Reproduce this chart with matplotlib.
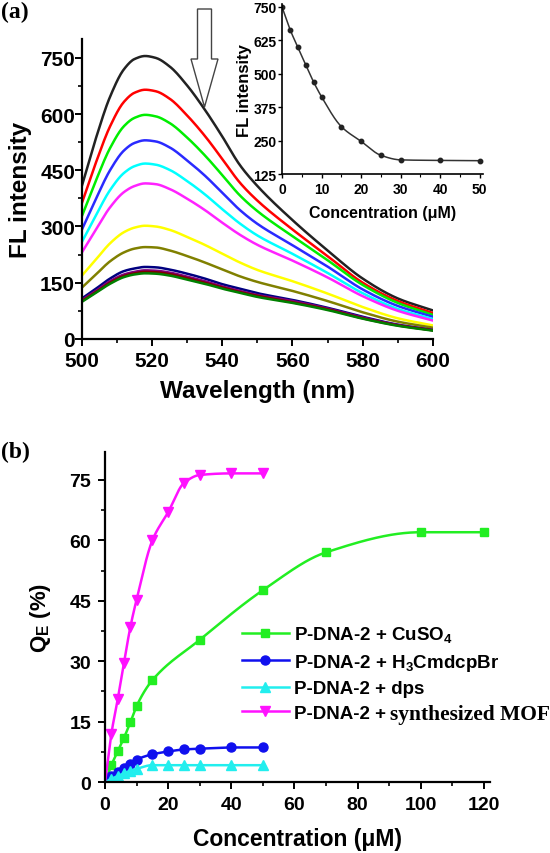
import numpy as np
import matplotlib
matplotlib.use("Agg")
import matplotlib.pyplot as plt
from matplotlib.patches import FancyArrow
from matplotlib.ticker import MultipleLocator

plt.rcParams['font.family'] = ['Liberation Sans', 'DejaVu Sans']
plt.rcParams['font.weight'] = 'bold'
plt.rcParams['axes.labelweight'] = 'bold'
plt.rcParams['mathtext.fontset'] = 'custom'
plt.rcParams['mathtext.rm'] = 'Liberation Sans:bold'
plt.rcParams['mathtext.it'] = 'Liberation Sans:bold'
plt.rcParams['mathtext.bf'] = 'Liberation Sans:bold'

# panel (a): emission spectra
wavelength = [500, 504, 508, 512, 515, 518, 521, 525, 530, 535, 540, 545, 550, 560, 570, 580, 590, 600]
spectra = [
    [409, 536, 646, 720, 747, 755, 750, 727, 676, 612, 540, 464, 408, 317, 236, 161, 108, 76],
    [363, 471, 567, 633, 657, 665, 661, 641, 596, 542, 480, 417, 369, 292, 221, 150, 101, 69],
    [328, 423, 509, 568, 590, 598, 594, 576, 537, 490, 437, 383, 341, 274, 210, 144, 96, 64],
    [292, 374, 450, 503, 523, 530, 527, 511, 476, 436, 390, 344, 307, 250, 193, 132, 88, 59],
    [259, 330, 397, 443, 461, 468, 465, 451, 421, 386, 346, 308, 276, 227, 176, 122, 80, 53],
    [231, 292, 351, 392, 408, 415, 413, 400, 374, 344, 310, 278, 251, 209, 164, 114, 75, 49],
    [169, 212, 255, 285, 297, 302, 300, 291, 272, 251, 227, 204, 184, 154, 121, 85, 55, 36],
    [137, 172, 207, 231, 241, 245, 244, 236, 221, 204, 185, 167, 152, 128, 101, 71, 46, 30],
    [108, 134, 161, 181, 188, 192, 191, 185, 174, 161, 146, 134, 122, 104, 83, 59, 38, 24],
    [104, 128, 154, 172, 179, 183, 182, 177, 166, 154, 140, 128, 117, 101, 81, 57, 37, 23],
    [101, 125, 150, 168, 175, 179, 178, 173, 162, 150, 137, 125, 115, 98, 79, 55, 36, 23],
    [99, 123, 147, 165, 172, 175, 174, 169, 158, 147, 134, 123, 112, 96, 77, 54, 35, 22],
]
spec_colors = ['#222222', '#ff0000', '#00ee00', '#2a2aff', '#00ffff', '#ff22ff',
               '#ffff00', '#808000', '#000080', '#800080', '#800000', '#008000']

# inset: peak intensity vs concentration
inset_conc = [0, 2, 4, 6, 8, 10, 15, 20, 25, 30, 40, 50]
inset_fl = [748, 665, 598, 532, 468, 413, 302, 247, 195, 178, 176, 175]

# panel (b): quenching efficiency
conc_cu = [0, 2, 4, 6, 8, 10, 15, 30, 50, 70, 100, 120]
qe_cu = [0, 4.2, 7.6, 11, 14.8, 18.9, 25.3, 35.3, 47.6, 57, 62, 62]
conc_b = [0, 2, 4, 6, 8, 10, 15, 20, 25, 30, 40, 50]
qe_h3 = [0, 1.5, 2.5, 3.5, 4.6, 5.6, 6.9, 7.6, 8.1, 8.3, 8.6, 8.6]
qe_dps = [0, 0.8, 1.5, 2.2, 2.8, 3.3, 4.2, 4.2, 4.2, 4.2, 4.2, 4.2]
qe_mof = [0, 12, 20.5, 29.6, 38.4, 45.3, 60, 67, 74.2, 76.2, 76.6, 76.6]

legend_labels = ['P-DNA-2 + CuSO$_4$', 'P-DNA-2 + H$_3$CmdcpBr', 'P-DNA-2 + dps',
                 'P-DNA-2 +']
serif_tail = 'synthesized MOF'


def smooth(x, y, n=300):
    # monotone cubic through the points, only for drawing the connecting line
    x = np.asarray(x, float)
    y = np.asarray(y, float)
    h = np.diff(x)
    dl = np.diff(y) / h
    d = np.zeros_like(y)
    d[0], d[-1] = dl[0], dl[-1]
    for k in range(1, len(x) - 1):
        if dl[k - 1] * dl[k] > 0:
            w1 = 2 * h[k] + h[k - 1]
            w2 = h[k] + 2 * h[k - 1]
            d[k] = (w1 + w2) / (w1 / dl[k - 1] + w2 / dl[k])
    xs = np.linspace(x[0], x[-1], n)
    i = np.clip(np.searchsorted(x, xs) - 1, 0, len(x) - 2)
    t = (xs - x[i]) / h[i]
    h00 = 2 * t**3 - 3 * t**2 + 1
    h10 = t**3 - 2 * t**2 + t
    h01 = -2 * t**3 + 3 * t**2
    h11 = t**3 - t**2
    ys = h00 * y[i] + h10 * h[i] * d[i] + h01 * y[i + 1] + h11 * h[i] * d[i + 1]
    return xs, ys


def style_axes(ax, size):
    ax.spines['top'].set_visible(False)
    ax.spines['right'].set_visible(False)
    ax.spines['left'].set_linewidth(1.6)
    ax.spines['bottom'].set_linewidth(1.6)
    ax.tick_params(which='major', direction='out', length=5, width=1.4, labelsize=size, pad=2)
    ax.tick_params(which='minor', direction='out', length=3, width=1.2)


fig = plt.figure(figsize=(5.5, 8.54), dpi=100)

# ---- panel (a)
ax1 = fig.add_axes([0.149, 0.602, 0.638, 0.351])
for vals, c in zip(spectra, spec_colors):
    sx, sy = smooth(wavelength, vals)
    ax1.plot(sx, sy, color=c, lw=1.8)
ax1.set_xlim(500, 600)
ax1.set_ylim(0, 800)
ax1.xaxis.set_major_locator(MultipleLocator(20))
ax1.xaxis.set_minor_locator(MultipleLocator(10))
ax1.set_yticks([0, 150, 300, 450, 600, 750])
ax1.yaxis.set_minor_locator(MultipleLocator(75))
style_axes(ax1, 15)
ax1.tick_params(axis='y', pad=0)
ax1.tick_params(axis='x', pad=4)
ax1.set_xlabel('Wavelength (nm)', fontsize=17.5, labelpad=6)
ax1.set_ylabel('FL intensity', fontsize=17.5, labelpad=6)

# inset
ax2 = fig.add_axes([0.513, 0.795, 0.365, 0.199])
xs, ys = smooth(inset_conc, inset_fl)
ax2.plot(xs, ys, color='#333333', lw=1.1)
ax2.plot(inset_conc, inset_fl, 'o', color='#222222', ms=3.2)
ax2.set_xlim(0, 50.8)
ax2.set_ylim(125, 760)
ax2.set_xticks([0, 10, 20, 30, 40, 50])
ax2.xaxis.set_minor_locator(MultipleLocator(5))
ax2.set_yticks([125, 250, 375, 500, 625, 750])
ax2.patch.set_alpha(0)
style_axes(ax2, 10)
ax2.tick_params(which='major', length=3, width=1.0, pad=1)
ax2.tick_params(which='minor', length=2, width=0.8)
ax2.tick_params(axis='x', pad=3)
ax2.spines['left'].set_linewidth(1.2)
ax2.spines['bottom'].set_linewidth(1.2)
ax2.set_xlabel('Concentration (μM)', fontsize=11.5, labelpad=6)
ax2.set_ylabel('FL intensity', fontsize=12, labelpad=1)

# downward hollow arrow
fig.add_artist(FancyArrow(2.045, 8.44, 0, -0.98, width=0.14, head_width=0.27, head_length=0.48,
                          length_includes_head=True, facecolor='white', edgecolor='#444444',
                          lw=1.0, transform=fig.dpi_scale_trans))

# ---- panel (b)
ax3 = fig.add_axes([0.191, 0.083, 0.70, 0.387])
series = [
    (conc_cu, qe_cu, '#22ee22', 's', 5.5),
    (conc_b, qe_h3, '#1010ee', 'o', 6.5),
    (conc_b, qe_dps, '#22eeee', '^', 6.5),
    (conc_b, qe_mof, '#ff11ff', 'v', 7.5),
]
for (cx, cy, col, mk, ms), lab in zip(series, legend_labels):
    sx, sy = smooth(cx, cy)
    ax3.plot(sx, sy, color=col, lw=1.8)
    ax3.plot(cx[1:], cy[1:], mk, color=col, ms=ms)
    ax3.plot([], [], color=col, lw=1.8, marker=mk, ms=ms, label=lab)
ax3.set_xlim(0, 122)
ax3.set_ylim(0, 82)
ax3.xaxis.set_major_locator(MultipleLocator(20))
ax3.xaxis.set_minor_locator(MultipleLocator(10))
ax3.set_yticks([0, 15, 30, 45, 60, 75])
ax3.yaxis.set_minor_locator(MultipleLocator(7.5))
style_axes(ax3, 14)
ax3.tick_params(axis='y', pad=5)
ax3.tick_params(axis='x', pad=5)
ax3.set_xlabel('Concentration (μM)', fontsize=16.5, labelpad=10)
ax3.set_ylabel('Q$_E$ (%)', fontsize=16, labelpad=12)
leg = ax3.legend(loc='upper left', bbox_to_anchor=(0.44, 0.268), bbox_transform=fig.transFigure,
                 frameon=False, fontsize=13.5, handlelength=2.5, handletextpad=0.3,
                 labelspacing=0.4, borderaxespad=0, borderpad=0)

# the last legend entry ends in a serif font, placed right after the sans part
fig.canvas.draw()
last = leg.get_texts()[-1]
bb = last.get_window_extent()
fig.text((bb.x1 + 4) / fig.bbox.width, (bb.y0 + 3) / fig.bbox.height, serif_tail,
         family='Liberation Serif', fontweight='bold', fontsize=15.5, va='baseline', ha='left')

fig.text(0.002, 0.998, '(a)', family='Liberation Serif', fontweight='bold', fontsize=17,
         va='top', ha='left')
fig.text(0.002, 0.482, '(b)', family='Liberation Serif', fontweight='bold', fontsize=17,
         va='top', ha='left')

fig.savefig('out.png', dpi=100)
